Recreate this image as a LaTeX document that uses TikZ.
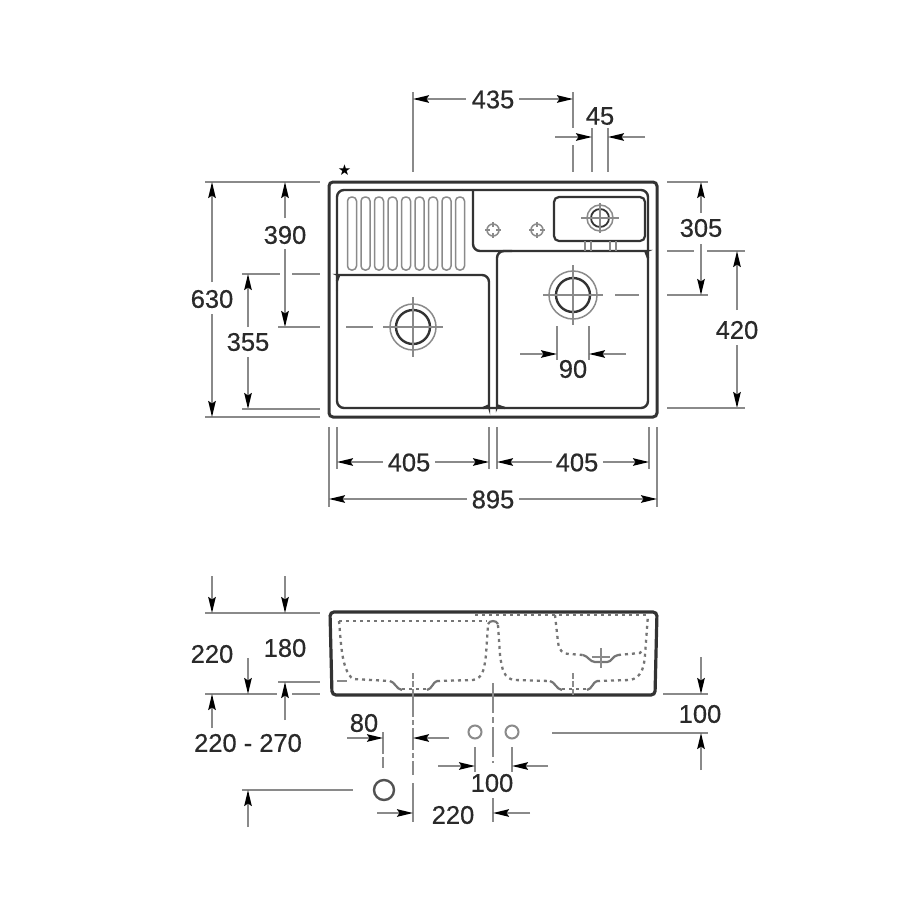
\documentclass[tikz,border=0pt]{standalone}
\usepackage{fontspec}
\setmainfont{Liberation Sans}[BoldFont={Liberation Sans},BoldFeatures={FakeBold=0.5}]
\newfontfamily\symfont{DejaVu Sans}
\usetikzlibrary{arrows.meta}
\definecolor{dimgrey}{HTML}{8A8A8A}
\definecolor{outl}{HTML}{333333}
\definecolor{lab}{HTML}{2A2A2A}
\tikzset{
  x=1pt,y=-1pt,
  ext/.style={draw=dimgrey,line width=1.8pt},
  arr/.style={draw=dimgrey,line width=1.8pt,-{Stealth[length=16pt,width=7.5pt,inset=2.5pt,color=black]}},
  lbl/.style={font=\fontsize{25.5}{25.5}\selectfont\bfseries,text=lab,inner sep=0pt},
  body/.style={draw=outl,line width=2.4pt,rounded corners=7pt},
  thick body/.style={draw=outl,line width=3pt,rounded corners=4pt},
  thin/.style={draw=dimgrey,line width=1.5pt},
  cross/.style={draw=dimgrey,line width=1.3pt},
  dotline/.style={draw=dimgrey!85!black,line width=2.3pt,dash pattern=on 3pt off 4pt},
  dotsolid/.style={draw=dimgrey!85!black,line width=2.2pt},
}
\begin{document}
\begin{tikzpicture}
\useasboundingbox (0,0) rectangle (900,900);
\fill[white] (0,0) rectangle (900,900);

% ---------- top view ----------
\draw[thick body] (329,182) rectangle (657,417);
% outline of bowls and plate
\draw[body] (337,290) -- (337,190) -- (462,190);
\draw[body] (462,190) -- (648,190) -- (648,408) -- (337,408) -- (337,290);
\draw[body] (473,190) -- (473,251) -- (640,251) .. controls (644,251) and (647,254) .. (648,258);
\draw[body] (337,281) .. controls (338,277) and (340,275) .. (345,275) -- (489,275) -- (489,400) .. controls (489,404) and (487,407) .. (483,408);
\draw[body] (505,408) .. controls (500,407) and (497,404) .. (497,400) -- (497,251) -- (512,251);
% draining grooves
\foreach \gx in {352,365.5,379,392.5,406,419.5,433,446.5,460}{
  \draw[thin,rounded corners=4pt] (\gx-4.5,197) rectangle (\gx+4.5,270);
}
% soap tray
\draw[body,line width=2.2pt,rounded corners=5pt] (554,197) rectangle (645,241);
\draw[thin] (585,241) -- (585,251) (591,241) -- (591,251) (610,241) -- (610,251) (616,241) -- (616,251);
\draw[thin] (600,218) circle (13);
\draw[outl,line width=1.8pt] (600,218) circle (9);
\draw[cross] (581,218) -- (619,218) (600,203) -- (600,233);
% tap holes
\foreach \tx in {493,537}{
  \draw[thin] (\tx,230) circle (6);
  \draw[cross] (\tx-8,230) -- (\tx-3,230) (\tx+3,230) -- (\tx+8,230) (\tx,222) -- (\tx,227) (\tx,233) -- (\tx,238);
}
% right drain
\draw[thin] (573,295) circle (24);
\draw[outl,line width=2.4pt] (573,295) circle (17);
\draw[cross] (543,295) -- (603,295) (573,265) -- (573,325);
\draw[ext] (615,295) -- (639,295);
% left drain
\draw[thin] (413,327) circle (23);
\draw[outl,line width=2.4pt] (413,327) circle (17);
\draw[cross] (383,327) -- (443,327) (413,297) -- (413,357);
\draw[ext] (346,327) -- (373,327);

\node[font=\symfont\fontsize{15}{15}\selectfont,text=black,inner sep=0pt] (star) at (344.5,170) {★};

% 435 / 45
\draw[ext] (413,92) -- (413,172);
\draw[ext] (573,92) -- (573,128) (573,145) -- (573,172);
\draw[ext] (592,128) -- (592,172);
\draw[ext] (608,128) -- (608,172);
\draw[arr] (466,99) -- (413,99);
\draw[arr] (519,99) -- (573,99);
\node[lbl] (l435) at (493,99.5) {435};
\draw[arr] (555,137) -- (592,137);
\draw[arr] (645,137) -- (608,137);
\node[lbl] (l45) at (600,116) {45};

% 630 / 390 / 355
\draw[ext] (205,182) -- (320,182);
\draw[ext] (205,417) -- (320,417);
\draw[arr] (212,282) -- (212,182);
\draw[arr] (212,314) -- (212,417);
\node[lbl] (l630) at (212,299) {630};
\draw[arr] (285,218) -- (285,182);
\draw[arr] (285,249) -- (285,327);
\node[lbl] (l390) at (285,235) {390};
\draw[ext] (278,327) -- (320,327);
\draw[ext] (242,274) -- (280,274) (292,274) -- (320,274);
\draw[arr] (248,327) -- (248,274);
\draw[arr] (248,357) -- (248,409);
\node[lbl] (l355) at (248,342) {355};
\draw[ext] (242,409) -- (320,409);

% 305 / 420
\draw[ext] (667,182) -- (708,182);
\draw[ext] (667,295) -- (708,295);
\draw[arr] (701,213) -- (701,182);
\draw[arr] (701,244) -- (701,295);
\node[lbl] (l305) at (701,228) {305};
\draw[ext] (667,251) -- (694,251) (707,251) -- (745,251);
\draw[arr] (737,310) -- (737,251);
\draw[arr] (737,345) -- (737,408);
\node[lbl] (l420) at (737,330) {420};
\draw[ext] (667,408) -- (745,408);

% 90
\draw[ext] (557,326) -- (557,360) (589,326) -- (589,360);
\draw[arr] (520,354) -- (557,354);
\draw[arr] (626,354) -- (589,354);
\node[lbl] (l90) at (573,369) {90};

% 405 / 405 / 895
\draw[ext] (329,427) -- (329,507) (657,427) -- (657,507);
\draw[ext] (337,427) -- (337,469) (489,427) -- (489,469) (497,427) -- (497,469) (649,427) -- (649,469);
\draw[arr] (383,462) -- (337,462);
\draw[arr] (435,462) -- (489,462);
\node[lbl] (l405a) at (409,462.5) {405};
\draw[arr] (552,462) -- (497,462);
\draw[arr] (603,462) -- (649,462);
\node[lbl] (l405b) at (577,462.5) {405};
\draw[arr] (467,499) -- (329,499);
\draw[arr] (519,499) -- (657,499);
\node[lbl] (l895) at (493,499.5) {895};

% ---------- front view ----------
\draw[thick body,line width=3.2pt] (330,612) -- (657,612) -- (655,695) -- (332,695) -- cycle;
% hidden bowl outlines
\draw[dotline] (339,621) -- (487,621);
\draw[dotline] (475,615) -- (648,615);
\draw[dotline] (339,621) .. controls (341,640) and (341,670) .. (353,679) -- (390,681);
\draw[dotsolid] (390,681) .. controls (395,682) and (396,689) .. (402,690);
\draw[dotsolid] (427,690) .. controls (432,689) and (433,682) .. (437,681);
\draw[dotline] (402,689) -- (427,689);
\draw[dotline] (437,681) -- (473,680) .. controls (483,678) and (484,670) .. (486,655) -- (488,625);
\draw[dotsolid] (488,624) .. controls (490,620) and (496,620) .. (498,624);
\draw[dotline] (498,625) -- (500,655) .. controls (502,670) and (504,678) .. (514,680) -- (550,681);
\draw[dotsolid] (550,681) .. controls (555,682) and (556,689) .. (562,690);
\draw[dotsolid] (587,690) .. controls (592,689) and (593,682) .. (597,681);
\draw[dotline] (562,689) -- (587,689);
\draw[dotline] (597,681) -- (630,680) .. controls (640,678) and (644,670) .. (645,655) -- (648,615);
% tray
\draw[dotline] (555,615) -- (558,642) .. controls (559,650) and (562,654) .. (570,654) -- (583,655);
\draw[dotsolid] (583,655) .. controls (588,656) and (590,662) .. (595,662) -- (607,662) .. controls (612,662) and (612,656) .. (618,655);
\draw[dotline] (618,655) -- (640,653) -- (643,649);
\draw[dimgrey,line width=2pt] (337,681) -- (347,681);
% drain centre marks
\draw[cross,dash pattern=on 6pt off 2pt] (413,673) -- (413,695) (573,673) -- (573,695);
\draw[cross] (601,648) -- (601,668) (592,657) -- (610,657);

% 220 / 180 / 220-270
\draw[ext] (205,613) -- (320,613);
\draw[arr] (212,576) -- (212,613);
\draw[arr] (285,576) -- (285,613);
\node[lbl] (l220a) at (212,654) {220};
\node[lbl] (l180) at (285,648) {180};
\draw[ext] (205,694) -- (277,694) (292,694) -- (320,694);
\draw[ext] (278,682) -- (320,682);
\draw[arr] (248,658) -- (248,694);
\draw[arr] (212,728) -- (212,694);
\draw[arr] (285,720) -- (285,682);
\node[lbl] (l220b) at (248,743) {220 - 270};

% right 100
\draw[ext] (663,694) -- (708,694);
\draw[arr] (701,657) -- (701,694);
\node[lbl] (l100a) at (700,714) {100};
\draw[ext] (552,733) -- (708,733);
\draw[arr] (701,770) -- (701,733);

% centre lines below
\draw[ext,dash pattern=on 22pt off 3pt on 5pt off 3pt] (413,695) -- (413,775);
\draw[ext] (413,783) -- (413,822);
\draw[ext,dash pattern=on 30pt off 4pt on 6pt off 4pt] (493,683) -- (493,763);
\draw[ext] (493,798) -- (493,822);

% 80
\draw[ext,dash pattern=on 22pt off 3pt] (383,732) -- (383,768);
\draw[arr] (347,738) -- (383,738);
\draw[arr] (449,738) -- (413,738);
\node[lbl] (l80) at (364,723) {80};

% taps
\draw[dimgrey,line width=2pt] (475,732) circle (6.5);
\draw[dimgrey,line width=2pt] (512,732) circle (6.5);
\draw[ext] (475,747) -- (475,772) (512,747) -- (512,772);
\draw[arr] (438,766) -- (475,766);
\draw[arr] (548,766) -- (512,766);
\node[lbl] (l100b) at (492,783) {100};

% waste outlet
\draw[outl!85,line width=2.4pt] (384,790) circle (10);
\draw[ext] (242,790) -- (353,790);
\draw[arr] (248,827) -- (248,790);
\draw[arr] (377,813) -- (413,813);
\draw[arr] (530,813) -- (493,813);
\node[lbl] (l220c) at (453,815) {220};
\end{tikzpicture}
\end{document}
